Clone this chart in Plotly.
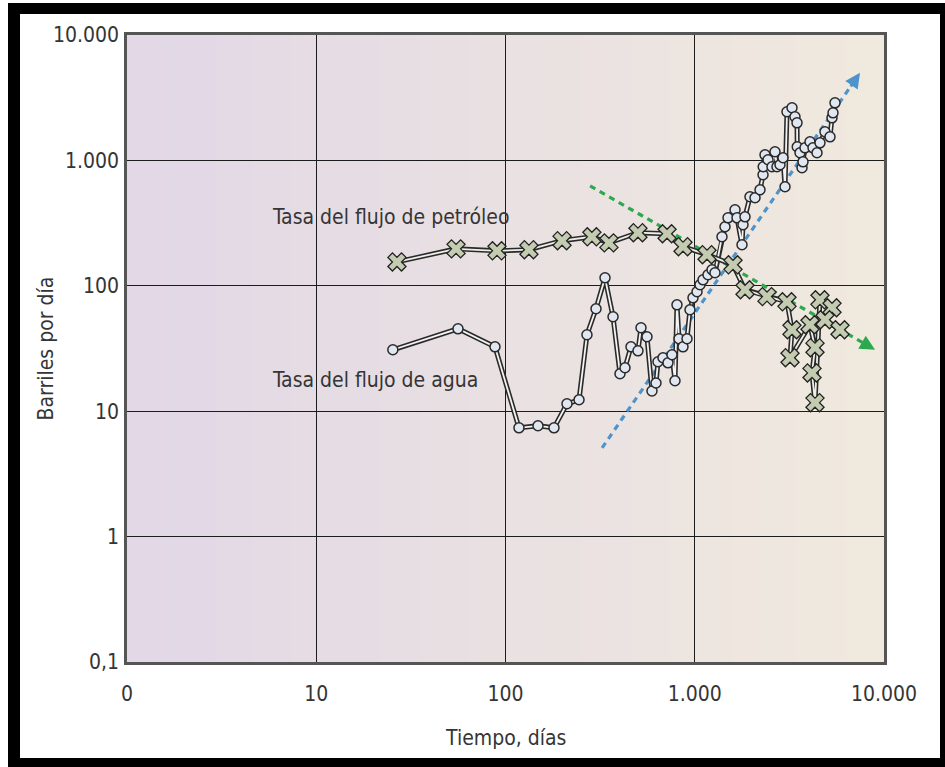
import plotly.graph_objects as go
import numpy as np

# ---------------- data ----------------
water_days = [25.4, 56.1, 88.0, 117.8, 148.5, 180.4, 211.3, 244.6, 269.5, 300.8,
              335.6, 370, 402.7, 428, 460.3, 501.2, 520, 559.3, 594.3, 624,
              639.4, 679.5, 722.1, 758.2, 786.3, 805.7, 825.6, 866.8, 910, 943.7,
              979, 1028, 1066, 1106, 1175, 1234, 1279, 1393, 1445, 1499,
              1632, 1672, 1777, 1799, 1843, 1958, 2082, 2212, 2295, 2300,
              2351, 2439, 2560, 2655, 2720, 2821, 2927, 2999, 3072, 3265,
              3386, 3470, 3480, 3599, 3688, 3733, 3824, 4064, 4216, 4426,
              4589, 4877, 5184, 5312, 5377, 5510]
water_bpd = [30.9, 45.4, 32.6, 7.37, 7.65, 7.37, 11.46, 12.33, 40.7, 65.6,
             115.8, 56.6, 19.9, 22.2, 32.6, 30.3, 46.3, 39.2, 14.5, 16.8,
             24.8, 26.7, 24.3, 28.2, 17.5, 70.5, 37.8, 32.6, 37.8, 64.4,
             80.2, 89.6, 101.9, 111.6, 122.4, 134.2, 127.0, 245.9, 295.5, 348.5,
             403.7, 348.5, 212.3, 306.5, 354.9, 512.6, 503.3, 583, 767.6, 889.2,
             1108, 1011, 889.2, 1171, 889.2, 922.4, 1049, 616, 2441, 2627,
             2227, 1994, 1284, 1150, 873, 974.5, 1260, 1407, 1260, 1150,
             1381, 1691, 1542, 2186, 2396, 2879]

oil_days = [26.7, 54.8, 90.2, 133, 199, 286, 352, 501, 714, 867,
            1161, 1593, 1843, 2409, 3072, 3265, 3187, 4064, 4319, 4165,
            4319, 4589, 5312, 4877, 5856]
oil_bpd = [155, 197, 190, 194, 229, 246, 220, 265, 260, 205,
           177, 147, 93, 82, 74.5, 44.6, 26.7, 48.9, 32.1, 20.2,
           11.7, 77.3, 66.8, 53.6, 44.6]

oil_trend_days = [280, 8965]
oil_trend_bpd = [627, 30.9]
water_trend_days = [324, 7468]
water_trend_bpd = [5.1, 4995]

x_tickvals = [1, 10, 100, 1000, 10000]
x_ticktext = ["0", "10", "100", "1.000", "10.000"]
y_tickvals = [0.1, 1, 10, 100, 1000, 10000]
y_ticktext = ["0,1", "1", "10", "100", "1.000", "10.000"]

label_oil = "Tasa del flujo de petróleo"
label_water = "Tasa del flujo de agua"
label_oil_pos = (5.7, 355)
label_water_pos = (5.7, 17.8)
x_title = "Tiempo, días"
y_title = "Barriles por día"

# ---------------- styling ----------------
FONT = "Liberation Sans Narrow, DejaVu Sans Condensed, Arial Narrow, sans-serif"
TXT = "#353535"
W, H = 945, 767
ML, MR, MT, MB = 127, 61, 35, 105
PW, PH = W - ML - MR, H - MT - MB


def px(xp):
    return (xp - ML) / PW


def py(yp):
    return (H - MB - yp) / PH


fig = go.Figure()

# trend lines (dashed)
GREEN = "#2ea84e"
BLUE = "#4d93cc"


def trend(days, vals, color):
    lx = np.log10(days)
    ly = np.log10(vals)
    t = 0.96
    ex = 10 ** (lx[0] + t * (lx[1] - lx[0]))
    ey = 10 ** (ly[0] + t * (ly[1] - ly[0]))
    fig.add_trace(go.Scatter(x=[days[0], ex], y=[vals[0], ey], mode="lines",
                             line=dict(color=color, width=3.2, dash="6px,5px"),
                             hoverinfo="skip", showlegend=False))
    fig.add_annotation(x=lx[1], y=ly[1], ax=np.log10(ex), ay=np.log10(ey),
                       xref="x", yref="y", axref="x", ayref="y", text="",
                       showarrow=True, arrowhead=2, arrowsize=1.0, arrowwidth=3,
                       arrowcolor=color, standoff=0)


trend(water_trend_days, water_trend_bpd, BLUE)
trend(oil_trend_days, oil_trend_bpd, GREEN)

# water series: double line + circles
fig.add_trace(go.Scatter(x=water_days, y=water_bpd, mode="lines",
                         line=dict(color="#2a2a2a", width=5), hoverinfo="skip", showlegend=False))
fig.add_trace(go.Scatter(x=water_days, y=water_bpd, mode="lines",
                         line=dict(color="#f4f4f4", width=1.8), hoverinfo="skip", showlegend=False))
fig.add_trace(go.Scatter(x=water_days, y=water_bpd, mode="markers",
                         marker=dict(symbol="circle", size=10, color="#e1e7f1",
                                     line=dict(color="#2a2a2a", width=1.5)),
                         showlegend=False))

# oil series: double line + X markers
fig.add_trace(go.Scatter(x=oil_days, y=oil_bpd, mode="lines",
                         line=dict(color="#2a2a2a", width=5), hoverinfo="skip", showlegend=False))
fig.add_trace(go.Scatter(x=oil_days, y=oil_bpd, mode="lines",
                         line=dict(color="#eef0e8", width=1.8), hoverinfo="skip", showlegend=False))
fig.add_trace(go.Scatter(x=oil_days, y=oil_bpd, mode="markers",
                         marker=dict(symbol="x", size=16, color="#c3ccb0",
                                     line=dict(color="#222222", width=1.3)),
                         showlegend=False))

# series labels
fig.add_annotation(x=np.log10(label_oil_pos[0]), y=np.log10(label_oil_pos[1]),
                   xref="x", yref="y", text=label_oil, showarrow=False,
                   xanchor="left", yanchor="middle",
                   font=dict(family=FONT, size=21, color=TXT))
fig.add_annotation(x=np.log10(label_water_pos[0]), y=np.log10(label_water_pos[1]),
                   xref="x", yref="y", text=label_water, showarrow=False,
                   xanchor="left", yanchor="middle",
                   font=dict(family=FONT, size=21, color=TXT))

# axis titles
fig.add_annotation(x=0.5, y=py(738), xref="paper", yref="paper", text=x_title,
                   showarrow=False, xanchor="center", yanchor="middle",
                   font=dict(family=FONT, size=21, color=TXT))
fig.add_annotation(x=px(45), y=0.5, xref="paper", yref="paper", text=y_title,
                   showarrow=False, xanchor="center", yanchor="middle", textangle=-90,
                   font=dict(family=FONT, size=21, color=TXT))

# background gradient in plot area (lavender -> beige)
shapes = []
N = 60
c0 = np.array([226, 216, 231])
c1 = np.array([241, 234, 222])
for i in range(N):
    f = (i + 0.5) / N
    c = (c0 + (c1 - c0) * f).astype(int)
    shapes.append(dict(type="rect", xref="x domain", yref="y domain",
                       x0=i / N, x1=(i + 1) / N + 0.002, y0=0, y1=1,
                       fillcolor=f"rgb({c[0]},{c[1]},{c[2]})",
                       line=dict(width=0), layer="below"))

# black outer frame
frame = [(8, 3, 945, 14), (8, 3, 20, 767), (940, 3, 945, 767), (8, 758, 945, 767)]
for (xa, ya, xb, yb) in frame:
    shapes.append(dict(type="rect", xref="paper", yref="paper",
                       x0=px(xa), x1=px(xb), y0=py(yb), y1=py(ya),
                       fillcolor="black", line=dict(width=0), layer="above"))

fig.update_layout(
    width=W, height=H,
    margin=dict(l=ML, r=MR, t=MT, b=MB),
    paper_bgcolor="white",
    plot_bgcolor="rgba(0,0,0,0)",
    shapes=shapes,
    showlegend=False,
    font=dict(family=FONT, color=TXT),
)

fig.update_xaxes(
    type="log", range=[0, 4],
    tickvals=x_tickvals, ticktext=x_ticktext,
    tickfont=dict(family=FONT, size=21, color=TXT),
    showgrid=True, gridcolor="#1c1c1c", gridwidth=1.3,
    showline=True, linecolor="#555555", linewidth=2.5, mirror=True,
    ticks="", ticklabelstandoff=11, zeroline=False,
)
fig.update_yaxes(
    type="log", range=[-1, 4],
    tickvals=y_tickvals, ticktext=y_ticktext,
    tickfont=dict(family=FONT, size=21, color=TXT),
    showgrid=True, gridcolor="#1c1c1c", gridwidth=1.3,
    showline=True, linecolor="#555555", linewidth=2.5, mirror=True,
    ticks="", ticklabelstandoff=1, zeroline=False,
)

fig.write_html("out.html")
